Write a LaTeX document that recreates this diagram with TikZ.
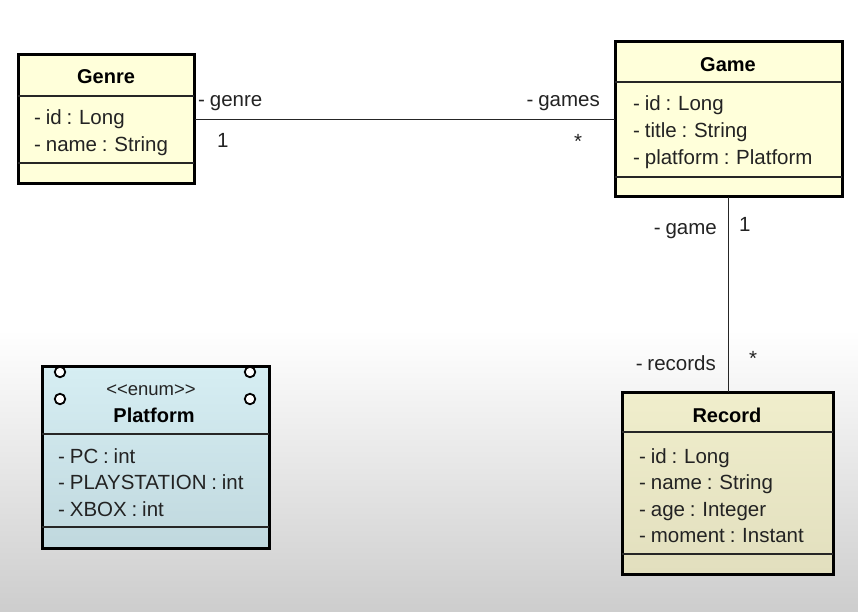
\documentclass[tikz,border=0pt]{standalone}
\usepackage{fontspec}
\setmainfont{Liberation Sans}[WordSpace=0.85]
\definecolor{yelfill}{RGB}{255,255,218}
\definecolor{recTop}{RGB}{240,238,204}
\definecolor{recBot}{RGB}{226,223,190}
\definecolor{platTop}{RGB}{214,238,243}
\definecolor{platBot}{RGB}{192,216,222}
\definecolor{txt}{RGB}{35,35,35}
\definecolor{bgBot}{RGB}{205,205,205}
\begin{document}
\begin{tikzpicture}[x=1pt,y=-1pt,
  classbox/.style={draw=black,line width=3pt,inner sep=0pt,outer sep=0pt},
  divider/.style={line width=1.3pt,draw=black!85},
  attr/.style={anchor=base west,inner sep=0pt,text=txt,font=\fontsize{20.5}{24}\selectfont},
  title/.style={anchor=base,inner sep=0pt,text=black,font=\fontsize{20}{24}\selectfont\bfseries},
  stereo/.style={anchor=base,inner sep=0pt,text=txt,font=\fontsize{18.5}{22}\selectfont},
  role/.style={inner sep=0pt,text=txt,font=\fontsize{20.5}{24}\selectfont},
  conn/.style={line width=1.5pt,draw=black!85},
  hole/.style={circle,draw=black,line width=1.8pt,fill=white,minimum size=10.5pt,inner sep=0pt}]
% background
\fill[white] (0,0) rectangle (858,612);
\shade[top color=white,bottom color=bgBot] (0,330) rectangle (858,612);
\useasboundingbox (0,0) rectangle (858,612);

% Genre
\node[classbox,fill=yelfill,minimum width=176pt,minimum height=129pt] (genre) at (106.5,119.5) {};
\draw[divider] (18,96) -- (194,96);
\draw[divider] (18,163) -- (194,163);
\node[title] (genreT) at (106,84) {Genre};
\node[attr] (genreA1) at (34,125) {- id : Long};
\node[attr] (genreA2) at (34,152) {- name : String};

% Game
\node[classbox,fill=yelfill,minimum width=227pt,minimum height=155pt] (game) at (728.5,119.5) {};
\draw[divider] (615,82) -- (842,82);
\draw[divider] (615,177) -- (842,177);
\node[title] (gameT) at (728,72) {Game};
\node[attr] (gameA1) at (633,111) {- id : Long};
\node[attr] (gameA2) at (633,138) {- title : String};
\node[attr] (gameA3) at (633,165) {- platform : Platform};

% Record
\node[classbox,top color=recTop,bottom color=recBot,minimum width=211pt,minimum height=182pt] (record) at (727.5,483) {};
\draw[divider] (622,432) -- (833,432);
\draw[divider] (622,554) -- (833,554);
\node[title] (recordT) at (727,422) {Record};
\node[attr] (recA1) at (639,463) {- id : Long};
\node[attr] (recA2) at (639,489) {- name : String};
\node[attr] (recA3) at (639,516) {- age : Integer};
\node[attr] (recA4) at (639,542) {- moment : Instant};

% Platform
\node[classbox,top color=platTop,bottom color=platBot,minimum width=227pt,minimum height=182pt] (platform) at (155.5,457) {};
\draw[divider] (42,434) -- (269,434);
\draw[divider] (42,527) -- (269,527);
\node[hole] (h1) at (60,372) {};
\node[hole] (h2) at (60,399) {};
\node[hole] (h3) at (250,372) {};
\node[hole] (h4) at (250,399) {};
\node[stereo] (platS) at (151,395) {<{}<enum>{}>};
\node[title] (platT) at (154,422) {Platform};
\node[attr] (platA1) at (58,463) {- PC : int};
\node[attr] (platA2) at (58,489) {- PLAYSTATION : int};
\node[attr] (platA3) at (58,516) {- XBOX : int};

% associations
\draw[conn] (genre.east) -- (game.west);
\draw[conn] (game.south) -- (game.south |- record.north);

% role labels
\node[role,anchor=base west] (rGenre) at (198,107) {- genre};
\node[role,anchor=base west] (mGenre) at (217,148) {1};
\node[role,anchor=base east] (rGames) at (600,107) {- games};
\node[role] (mGames) at (578,141) {*};
\node[role,anchor=base east] (rGame) at (717,234) {- game};
\node[role,anchor=base west] (mGame) at (739,231) {1};
\node[role,anchor=base east] (rRecords) at (716,370) {- records};
\node[role] (mRecords) at (753,358) {*};
\end{tikzpicture}
\end{document}
